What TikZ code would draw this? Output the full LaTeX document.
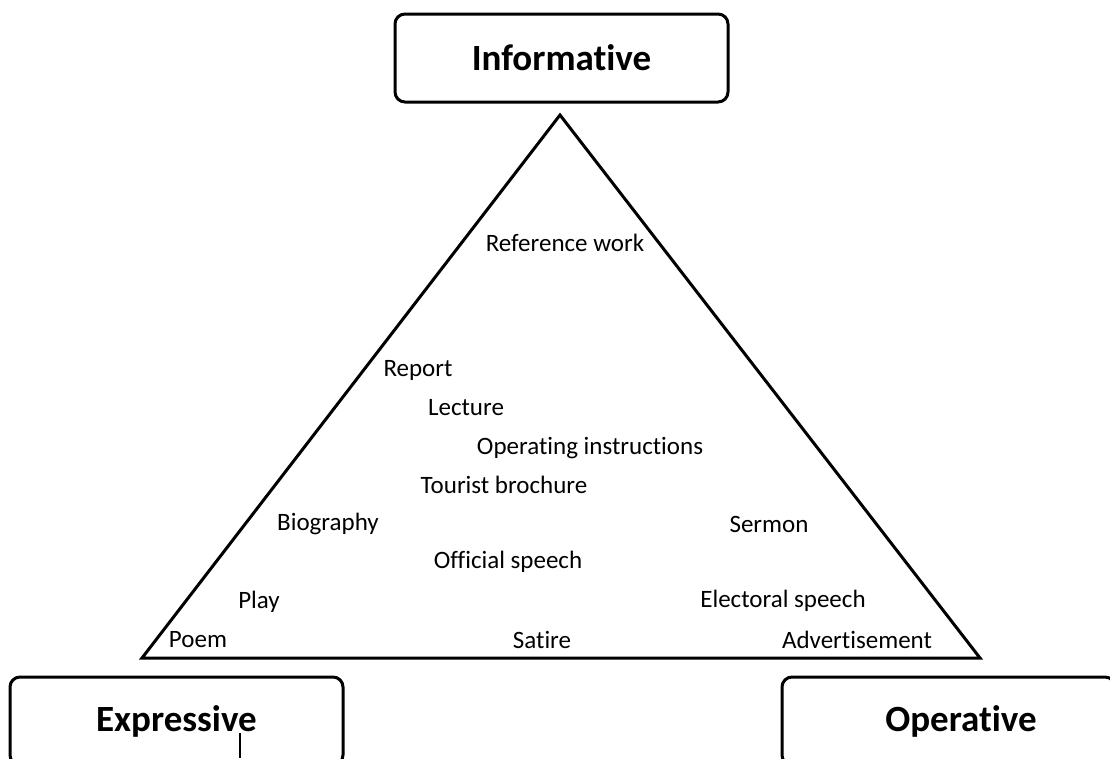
\documentclass[tikz,border=0pt]{standalone}
\usepackage{fontspec}
\setmainfont[Ligatures={NoCommon}]{Carlito}

\tikzset{
  typebox/.style={draw, line width=3pt, rounded corners=10pt, minimum width=333pt,
    minimum height=88pt, font=\fontsize{37}{40}\selectfont\bfseries},
  genre/.style={font=\fontsize{25}{28}\selectfont, inner sep=0pt}
}

\begin{document}
\begin{tikzpicture}[x=1pt, y=-1pt]

% Page frame
\useasboundingbox (0,0) rectangle (1110,758);
\clip (0,0) rectangle (1110,758);

% Draw the triangle
\draw[line width=3pt] (560,115) -- (980,658) -- (142,658) -- cycle;

% The three text types
\node[typebox] (informative) at (561.5,58) {Informative};
\node[typebox] (expressive) at (176.5,721) {Expressive};
\node[typebox, text width=300pt, align=center] (operative) at (948.5,721) {\hspace*{25pt}Operative};

% Genres inside the triangle
\node[genre] (reference) at (565,243) {Reference work};
\node[genre] (report) at (418,370) {Report};
\node[genre] (lecture) at (466,408) {Lecture};
\node[genre] (operating) at (590,448) {Operating instructions};
\node[genre] (tourist) at (504,485) {Tourist brochure};
\node[genre] (biography) at (328,524) {Biography};
\node[genre] (sermon) at (769,524) {Sermon};
\node[genre] (official) at (508,562) {Official speech};
\node[genre] (play) at (259,602) {Play};
\node[genre] (electoral) at (783,601) {Electoral speech};
\node[genre] (poem) at (198,640) {Poem};
\node[genre] (satire) at (542,640) {Satire};
\node[genre] (advert) at (857,640) {Advertisement};

% Cursor mark under Expressive
\draw[line width=1.5pt] (240,733) -- (240,758);

\end{tikzpicture}
\end{document}
